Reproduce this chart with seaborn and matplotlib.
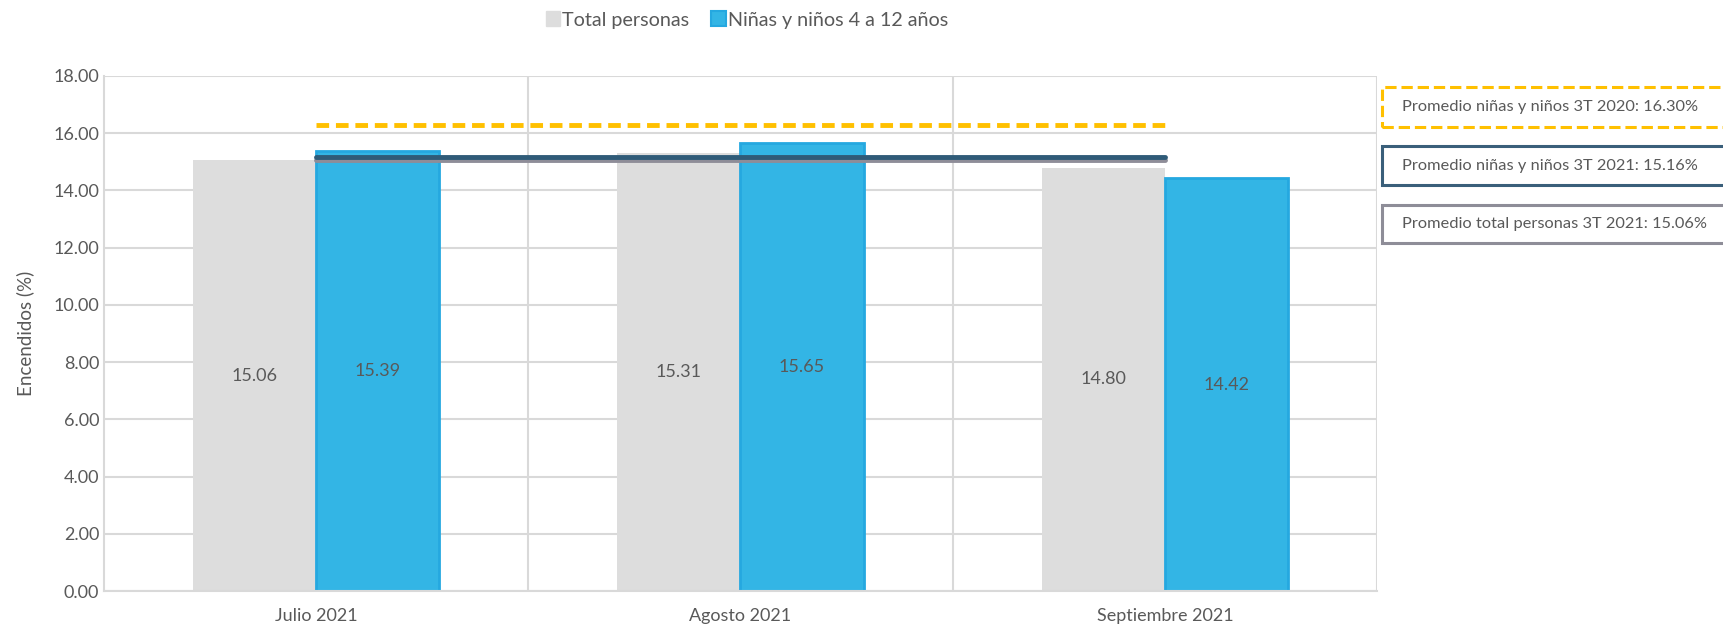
import matplotlib
matplotlib.use("Agg")
import matplotlib.pyplot as plt
import matplotlib.patches as mpatches
import seaborn as sns
import pandas as pd

months = ["Julio 2021", "Agosto 2021", "Septiembre 2021"]
series = ["Total personas", "Niñas y niños 4 a 12 años"]
total_vals = [15.06, 15.31, 14.80]
ninos_vals = [15.39, 15.65, 14.42]
avg_labels = ["Promedio niñas y niños 3T 2020: 16.30%",
              "Promedio niñas y niños 3T 2021: 15.16%",
              "Promedio total personas 3T 2021: 15.06%"]
avg_2020_ninos = 16.30
avg_2021_ninos = 15.16
avg_2021_total = 15.06
yticks = [0, 2, 4, 6, 8, 10, 12, 14, 16, 18]

sns.set_theme(style="white")
plt.rcParams['font.family'] = ['Lato', 'DejaVu Sans']
TXT = "#595959"

df = pd.DataFrame({
    "mes": months * 2,
    "serie": [series[0]] * 3 + [series[1]] * 3,
    "valor": total_vals + ninos_vals,
})

fig = plt.figure(figsize=(17.24, 6.24), dpi=100)
ax = fig.add_axes([104 / 1724, 33 / 624, (1377 - 104) / 1724, (591 - 76) / 624])

GRAY = "#DDDDDD"
BLUE = "#33B5E5"
sns.barplot(data=df, x="mes", y="valor", hue="serie", order=months, hue_order=series,
            palette=[GRAY, BLUE], saturation=1, width=0.58, gap=0, ax=ax,
            legend=False, zorder=2)

for i, p in enumerate(ax.patches):
    if i >= 3:
        p.set_edgecolor("#25A8E0")
        p.set_linewidth(2)
    else:
        p.set_edgecolor(GRAY)
        p.set_linewidth(0)

for c in ax.containers:
    ax.bar_label(c, fmt="%.2f", label_type="center", fontsize=13, color=TXT)

ax.set_ylim(0, 18)
ax.set_xlim(-0.5, 2.5)
ax.set_yticks(yticks)
ax.set_yticklabels([f"{v:.2f}" for v in yticks])
ax.grid(axis="y", color="#D9D9D9", linewidth=1.5, zorder=0)
for xv in [0.5, 1.5, 2.5]:
    ax.axvline(xv, color="#D9D9D9", linewidth=1.5, zorder=0)
for s in ["top", "right"]:
    ax.spines[s].set_visible(False)
for s in ["left", "bottom"]:
    ax.spines[s].set_color("#D9D9D9")
    ax.spines[s].set_linewidth(1.5)
ax.tick_params(axis="both", length=0, labelsize=13, labelcolor=TXT)
ax.tick_params(axis="x", pad=12)
ax.set_xlabel("")
ax.set_ylabel("Encendidos (%)", fontsize=13.5, color=TXT, labelpad=14)

# average lines
ax.plot([0, 2], [avg_2021_total, avg_2021_total], color="#8E8D98", lw=3.5,
        solid_capstyle="round", zorder=4)
ax.plot([0, 2], [avg_2021_ninos, avg_2021_ninos], color="#2F5B78", lw=3.5,
        solid_capstyle="round", zorder=5)
ax.plot([0, 2], [avg_2020_ninos, avg_2020_ninos], color="#FFC000", lw=3.5,
        linestyle=(0, (2.6, 1.4)), zorder=5)

# legend
handles = [mpatches.Patch(facecolor=GRAY, edgecolor=GRAY),
           mpatches.Patch(facecolor=BLUE, edgecolor="#25A8E0", linewidth=1.5)]
fig.legend(handles, series, loc="center", bbox_to_anchor=(747 / 1724, 1 - 20 / 624),
           ncol=2, frameon=False, fontsize=14.2, handlelength=0.75, handleheight=0.75,
           handletextpad=0.1, columnspacing=1.1, labelcolor=TXT)

# boxes on the right
boxes = [
    (87, 127, "#FFC000", "--"),
    (146, 185, "#3A5F7A", "-"),
    (205, 243, "#8E8D98", "-"),
]
for (y0, y1, ec, ls), lab in zip(boxes, avg_labels):
    rect = mpatches.Rectangle((1382 / 1724, 1 - y1 / 624), 400 / 1724, (y1 - y0) / 624,
                              transform=fig.transFigure, facecolor="white",
                              edgecolor=ec, linewidth=2.2, linestyle=ls, clip_on=False)
    fig.add_artist(rect)
    fig.text(1402 / 1724, 1 - (y0 + y1) / 2 / 624, lab, ha="left", va="center",
             fontsize=11.8, color=TXT)

fig.savefig("out.png", dpi=100)
